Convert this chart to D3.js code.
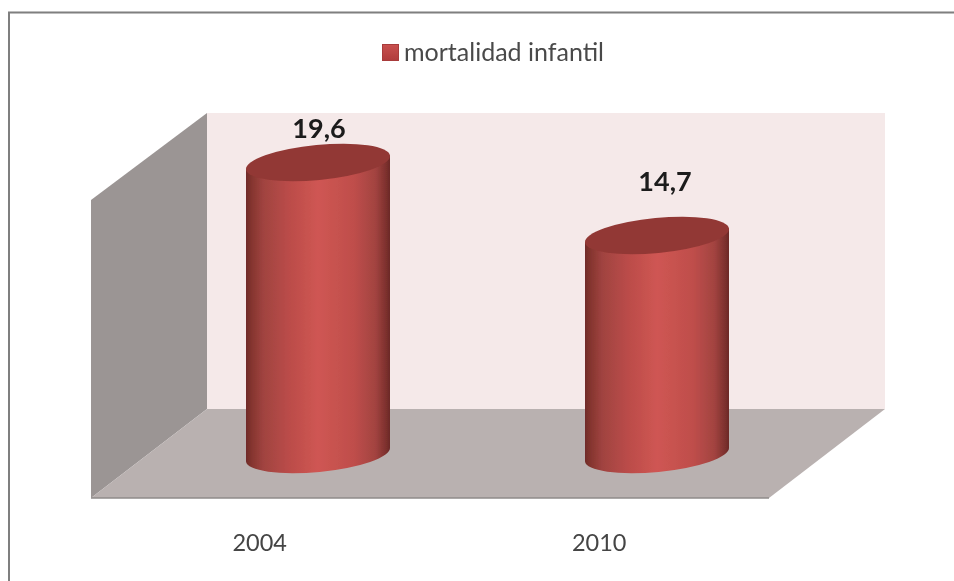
<!DOCTYPE html>
<html><head><meta charset="utf-8">
<script src="https://cdn.jsdelivr.net/npm/d3@7"></script>
<style>html,body{margin:0;padding:0;background:#fff}svg{display:block}</style></head>
<body><script>
const categories = ["2004", "2010"];
const values = [19.6, 14.7];
const valueLabels = ["19,6", "14,7"];
const seriesName = "mortalidad infantil";

const W = 954, H = 581;
const svg = d3.select("body").append("svg").attr("width", W).attr("height", H);
const defs = svg.append("defs");
defs.append("filter").attr("id", "soft").append("feGaussianBlur").attr("stdDeviation", 0.7);
const grad = defs.append("linearGradient").attr("id", "cyl");
[[0,"#6f2b29"],[0.04,"#85352f"],[0.12,"#a04340"],[0.3,"#bb4c49"],[0.5,"#cf5653"],[0.75,"#bf4e4b"],[0.9,"#a24340"],[0.97,"#7e312e"],[1,"#6b2927"]]
  .forEach(([o,c]) => grad.append("stop").attr("offset", o).attr("stop-color", c));
const lg = defs.append("linearGradient").attr("id", "leg").attr("x2", 0).attr("y2", 1);
[[0,"#c9504e"],[1,"#b03c3c"]].forEach(([o,c]) => lg.append("stop").attr("offset", o).attr("stop-color", c));

const root = svg.append("g").attr("filter", "url(#soft)");

// frame
root.append("path").attr("d", "M9,590V12.5H964").attr("fill", "none").attr("stroke", "#7f7f7f").attr("stroke-width", 2);

// 3D box
const back = {x0: 207, x1: 885, y0: 113, y1: 409};
const dx = 116, dy = 89;
root.append("rect").attr("x", back.x0).attr("y", back.y0).attr("width", back.x1 - back.x0).attr("height", back.y1 - back.y0).attr("fill", "#f5e9e9");
root.append("path").attr("d", d3.line()([[back.x0 - dx, back.y0 + 87],[back.x0, back.y0],[back.x0, back.y1],[back.x0 - dx, back.y1 + dy]])).attr("fill", "#9b9594");
root.append("path").attr("d", d3.line()([[back.x0 - dx, back.y1 + dy],[back.x0, back.y1],[back.x1, back.y1],[back.x1 - dx, back.y1 + dy]])).attr("fill", "#b9b1b0");
root.append("path").attr("d", `M${back.x0 - dx},${back.y1 + dy}H${back.x1 - dx}`).attr("stroke", "#8f8b8a").attr("stroke-width", 1.5).attr("fill", "none");

// scales
const baseY = 454.5;
const y = d3.scaleLinear().domain([0, 25]).range([baseY, baseY - 25 * 14.9]);
const xBack = d3.scaleBand().domain(categories).range([148.5, 826.5]).paddingInner(0.578).paddingOuter(0.289);
const xAxisScale = d3.scaleBand().domain(categories).range([90, 769]);

const rx = 72, ry = 17.5, tilt = -5.5;
const rad = tilt * Math.PI / 180;
const ex = rx, ey = rx * Math.tan(rad);
const labelDx = [1, 8], labelDy = [-24, -44];

const bars = root.selectAll("g.bar").data(values).join("g").attr("class", "bar");
bars.each(function (v, i) {
  const g = d3.select(this);
  const cx = xBack(categories[i]) + xBack.bandwidth() / 2;
  const yt = y(v), yb = y(0);
  g.append("path").attr("fill", "url(#cyl)").attr("d",
    `M${cx - ex},${yt - ey}L${cx + ex},${yt + ey}L${cx + ex},${yb + ey}` +
    `A${rx / Math.cos(rad)},${ry} ${tilt} 0 1 ${cx - ex},${yb - ey}Z`);
  g.append("ellipse").attr("cx", cx).attr("cy", yt).attr("rx", rx / Math.cos(rad)).attr("ry", ry)
    .attr("transform", `rotate(${tilt} ${cx} ${yt})`).attr("fill", "#923835");
  g.append("text").attr("x", cx + labelDx[i]).attr("y", yt + labelDy[i])
    .attr("text-anchor", "middle").attr("font-family", "Lato, sans-serif")
    .attr("font-weight", 700).attr("font-size", 27).attr("fill", "#1a1a1a").text(valueLabels[i]);
});

// category axis
const axis = root.append("g").attr("transform", "translate(0,498)").call(d3.axisBottom(xAxisScale).tickSize(0).tickPadding(0));
axis.select(".domain").remove();
axis.selectAll("text").attr("dy", 0).attr("y", 53).attr("font-family", "Lato, sans-serif").attr("font-size", 23.5).attr("fill", "#444");

// legend
root.append("rect").attr("x", 382.5).attr("y", 44.5).attr("width", 16).attr("height", 16).attr("fill", "url(#leg)").attr("stroke", "#a83a3a");
root.append("text").attr("x", 404).attr("y", 61).attr("font-family", "Lato, sans-serif").attr("font-size", 25).attr("fill", "#4a4a4a").attr("textLength", 200).attr("lengthAdjust", "spacingAndGlyphs").text(seriesName);
</script></body></html>
